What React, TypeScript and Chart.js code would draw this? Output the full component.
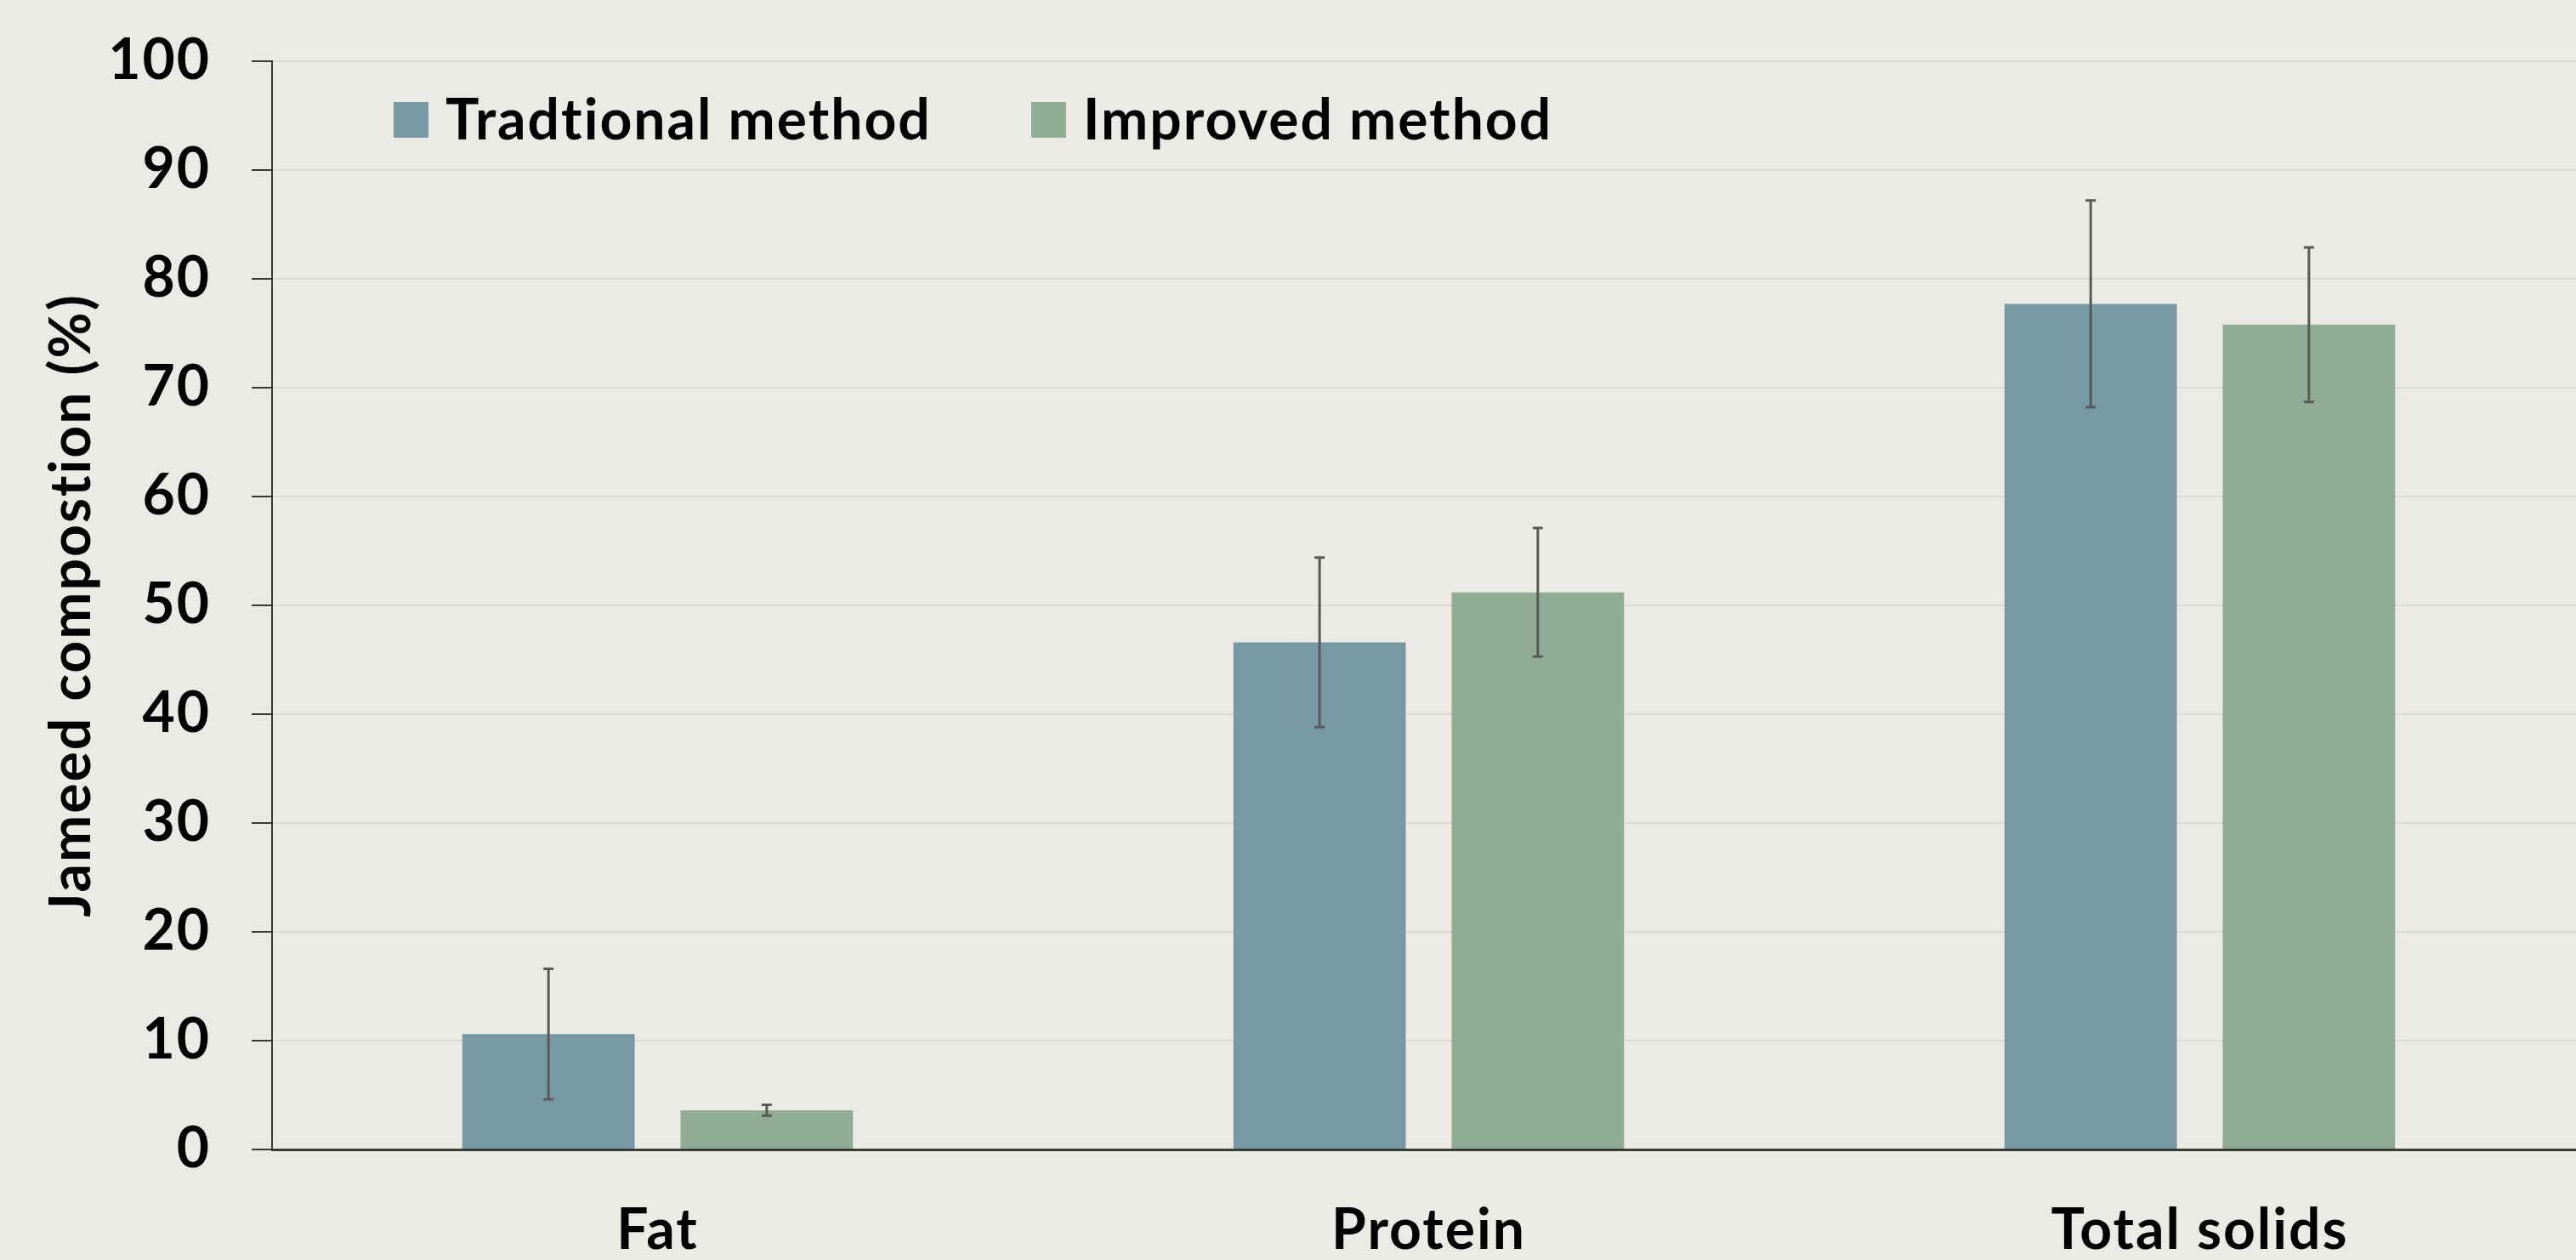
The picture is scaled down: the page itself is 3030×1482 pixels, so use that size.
import React, { useEffect, useRef } from "react";
import { Chart, registerables } from "chart.js";

Chart.register(...registerables);

// ---- Data ----
const categories = ["Fat", "Protein", "Total solids"];
const seriesNames = ["Tradtional method", "Improved method"];
const traditionalValues = [10.6, 46.6, 77.7];
const traditionalErrors = [6.0, 7.8, 9.5];
const improvedValues = [3.6, 51.2, 75.8];
const improvedErrors = [0.5, 5.9, 7.1];
const yTickValues = [0, 10, 20, 30, 40, 50, 60, 70, 80, 90, 100];
const yTitle = "Jameed compostion (%)";

// ---- Styles ----
const FONT = "Lato";
const FONT_SIZE = 66;
const LETTER_SPACING = "2px";
const BG = "#EBEAE5";
const COLORS = ["#7799A4", "#91AC94"];
const GRID = "#D9D9D5";
const AXIS = "#3A3A3A";
const LEGEND_X = [463, 1213];

const spacingPlugin = {
  id: "letterSpacing",
  afterInit(chart: any) {
    chart.ctx.letterSpacing = LETTER_SPACING;
  },
  beforeUpdate(chart: any) {
    chart.ctx.letterSpacing = LETTER_SPACING;
  },
  beforeDraw(chart: any) {
    chart.ctx.letterSpacing = LETTER_SPACING;
  },
};

const errorBarPlugin = {
  id: "errorBars",
  afterDatasetsDraw(chart: any) {
    const ctx = chart.ctx;
    const y = chart.scales.y;
    chart.data.datasets.forEach((ds: any, di: number) => {
      const meta = chart.getDatasetMeta(di);
      meta.data.forEach((bar: any, i: number) => {
        const v = ds.data[i];
        const e = ds.errors[i];
        const yTop = y.getPixelForValue(v + e);
        const yBot = y.getPixelForValue(v - e);
        ctx.save();
        ctx.strokeStyle = "#595959";
        ctx.lineWidth = 3;
        ctx.beginPath();
        ctx.moveTo(bar.x, yTop);
        ctx.lineTo(bar.x, yBot);
        ctx.moveTo(bar.x - 6, yTop);
        ctx.lineTo(bar.x + 6, yTop);
        ctx.moveTo(bar.x - 6, yBot);
        ctx.lineTo(bar.x + 6, yBot);
        ctx.stroke();
        ctx.restore();
      });
    });
  },
};

const legendPlugin = {
  id: "insideLegend",
  afterDraw(chart: any) {
    const ctx = chart.ctx;
    ctx.save();
    chart.data.datasets.forEach((ds: any, i: number) => {
      const x = LEGEND_X[i];
      ctx.fillStyle = ds.backgroundColor;
      ctx.fillRect(x, 120, 41, 42);
      ctx.fillStyle = "#000";
      ctx.font = `bold ${FONT_SIZE}px ${FONT}`;
      ctx.letterSpacing = LETTER_SPACING;
      ctx.textBaseline = "middle";
      ctx.textAlign = "left";
      ctx.fillText(ds.label, x + 61, 143);
    });
    ctx.restore();
  },
};

export default function App() {
  const ref = useRef<HTMLCanvasElement | null>(null);

  useEffect(() => {
    let chart: Chart | null = null;
    let cancelled = false;
    const make = () => {
      if (cancelled || !ref.current) return;
      chart = new Chart(ref.current, {
        type: "bar",
        data: {
          labels: categories,
          datasets: [
            {
              label: seriesNames[0],
              data: traditionalValues,
              errors: traditionalErrors,
              backgroundColor: COLORS[0],
              barPercentage: 0.79,
              categoryPercentage: 0.566,
            } as any,
            {
              label: seriesNames[1],
              data: improvedValues,
              errors: improvedErrors,
              backgroundColor: COLORS[1],
              barPercentage: 0.79,
              categoryPercentage: 0.566,
            } as any,
          ],
        },
        options: {
          responsive: false,
          animation: false,
          devicePixelRatio: 1,
          layout: { padding: { left: 0, right: 9, top: 72, bottom: 0 } },
          plugins: {
            legend: { display: false },
            tooltip: { enabled: false },
          },
          scales: {
            x: {
              z: 1,
              grid: { display: false, drawTicks: false },
              border: { display: true, color: AXIS, width: 3 },
              ticks: {
                padding: 56,
                color: "#000",
                font: { family: FONT, size: FONT_SIZE, weight: "bold" },
              },
              afterFit(scale: any) {
                scale.height = 130;
                scale.paddingLeft = 0;
                scale.paddingRight = 0;
              },
            },
            y: {
              min: yTickValues[0],
              max: yTickValues[yTickValues.length - 1],
              grid: {
                color: (c: any) => (c.tick && c.tick.value === 0 ? AXIS : GRID),
                lineWidth: 2,
                tickColor: AXIS,
                tickWidth: 2,
                tickLength: 24,
              },
              border: { display: true, color: AXIS, width: 2 },
              ticks: {
                stepSize: yTickValues[1] - yTickValues[0],
                padding: 48,
                color: "#000",
                font: { family: FONT, size: FONT_SIZE, weight: "bold" },
              },
              title: {
                display: true,
                text: yTitle,
                color: "#000",
                padding: { top: 45, bottom: 0 },
                font: { family: FONT, size: FONT_SIZE, weight: "bold" },
              },
              afterFit(scale: any) {
                scale.width = 320;
                scale.paddingTop = 0;
                scale.paddingBottom = 0;
              },
            },
          },
        } as any,
        plugins: [spacingPlugin, errorBarPlugin, legendPlugin],
      });
    };
    const fontsApi = (document as any).fonts;
    if (fontsApi && fontsApi.load) {
      fontsApi.load(`bold ${FONT_SIZE}px ${FONT}`).then(make, make);
    } else {
      make();
    }
    return () => {
      cancelled = true;
      if (chart) chart.destroy();
    };
  }, []);

  return (
    <div
      style={{
        position: "fixed",
        left: 0,
        top: 0,
        width: 3030,
        height: 1482,
        overflow: "hidden",
        background: BG,
      }}
    >
      <canvas
        ref={ref}
        width={3050}
        height={1482}
        style={{ display: "block", width: 3050, height: 1482 }}
      />
    </div>
  );
}
